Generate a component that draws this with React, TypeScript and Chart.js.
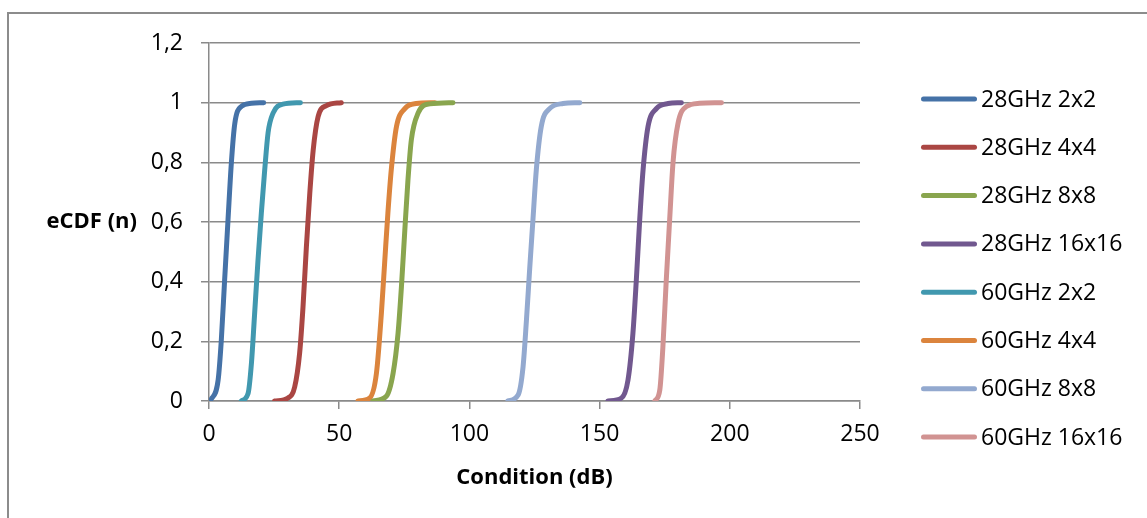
import React, { useEffect, useRef } from "react";
import { Chart, registerables } from "chart.js";

Chart.register(...registerables);

const seriesLabels = [
  "28GHz 2x2",
  "28GHz 4x4",
  "28GHz 8x8",
  "28GHz 16x16",
  "60GHz 2x2",
  "60GHz 4x4",
  "60GHz 8x8",
  "60GHz 16x16",
];

const seriesColors = [
  "#4572A7",
  "#AA4643",
  "#89A54E",
  "#71588F",
  "#4198AF",
  "#DB843D",
  "#93A9CF",
  "#D19392",
];

const ghz28_2x2_x = [0.5, 3.5, 4.7, 6.0, 7.3, 8.6, 9.9, 12.4, 16.3, 21];
const ghz28_2x2_y = [0, 0.07, 0.2, 0.405, 0.607, 0.8, 0.93, 0.987, 0.998, 1.0];

const ghz28_4x4_x = [25.2, 30.3, 32.9, 34.8, 36.1, 37.4, 38.7, 40.0, 41.9, 45.1, 50.8];
const ghz28_4x4_y = [0, 0.01, 0.047, 0.16, 0.315, 0.517, 0.696, 0.84, 0.953, 0.99, 1.0];

const ghz28_8x8_x = [63.0, 68.1, 70.7, 72.6, 73.9, 75.2, 76.4, 77.7, 80.3, 84.8, 93.7];
const ghz28_8x8_y = [0, 0.016, 0.093, 0.227, 0.383, 0.573, 0.74, 0.875, 0.965, 0.996, 1.0];

const ghz28_16x16_x = [153.2, 158.4, 160.9, 162.8, 164.1, 165.4, 166.7, 168.6, 171.8, 176.3, 181.4];
const ghz28_16x16_y = [0, 0.01, 0.07, 0.227, 0.405, 0.607, 0.775, 0.92, 0.98, 0.997, 1.0];

const ghz60_2x2_x = [12.4, 15.0, 16.3, 17.5, 18.8, 20.1, 21.4, 22.7, 24.6, 28.4, 35.1];
const ghz60_2x2_y = [0, 0.025, 0.127, 0.29, 0.47, 0.63, 0.775, 0.9, 0.965, 0.995, 1.0];

const ghz60_4x4_x = [57.2, 61.7, 64.3, 66.2, 67.5, 68.7, 70.0, 72.0, 75.2, 79.6, 86.7];
const ghz60_4x4_y = [0, 0.01, 0.093, 0.294, 0.47, 0.63, 0.775, 0.92, 0.98, 0.997, 1.0];

const ghz60_8x8_x = [114.8, 118.7, 120.6, 121.9, 123.2, 124.4, 125.7, 127.6, 130.8, 136.0, 142.4];
const ghz60_8x8_y = [0, 0.02, 0.114, 0.27, 0.45, 0.607, 0.775, 0.92, 0.98, 0.997, 1.0];

const ghz60_16x16_x = [171.2, 173.1, 174.3, 175.6, 176.9, 178.2, 180.1, 183.3, 188.4, 196.8];
const ghz60_16x16_y = [0, 0.036, 0.18, 0.405, 0.607, 0.8, 0.93, 0.987, 0.998, 1.0];

const seriesX = [ghz28_2x2_x, ghz28_4x4_x, ghz28_8x8_x, ghz28_16x16_x, ghz60_2x2_x, ghz60_4x4_x, ghz60_8x8_x, ghz60_16x16_x];
const seriesY = [ghz28_2x2_y, ghz28_4x4_y, ghz28_8x8_y, ghz28_16x16_y, ghz60_2x2_y, ghz60_4x4_y, ghz60_8x8_y, ghz60_16x16_y];

const yTickLabels = ["0", "0,2", "0,4", "0,6", "0,8", "1", "1,2"];
const xTitle = "Condition (dB)";
const yTitle = "eCDF (n)";

const FONT = '"Open Sans", "DejaVu Sans", sans-serif';
const GRID = "#8a8a8a";

const overlayPlugin = {
  id: "overlay",
  afterDraw(chart: any) {
    const ctx = chart.ctx;
    const { top, bottom, right } = chart.chartArea;
    ctx.save();
    ctx.fillStyle = "#000";
    ctx.font = `bold 22px ${FONT}`;
    ctx.textAlign = "right";
    ctx.textBaseline = "middle";
    ctx.fillText(yTitle, 137, (top + bottom) / 2);

    const startY = 99;
    const step = 48.3;
    chart.data.datasets.forEach((ds: any, i: number) => {
      const y = startY + i * step;
      ctx.strokeStyle = ds.borderColor;
      ctx.lineWidth = 5;
      ctx.lineCap = "round";
      ctx.beginPath();
      ctx.moveTo(right + 63.5, y);
      ctx.lineTo(right + 114.5, y);
      ctx.stroke();
      ctx.font = `23px ${FONT}`;
      ctx.textAlign = "left";
      ctx.textBaseline = "middle";
      ctx.fillStyle = "#000";
      ctx.fillText(ds.label, right + 121, y + 1);
    });
    ctx.restore();
  },
};

export default function App() {
  const canvasRef = useRef<HTMLCanvasElement | null>(null);

  useEffect(() => {
    if (!canvasRef.current) return;
    const datasets = seriesLabels.map((label, i) => ({
      label,
      data: seriesX[i].map((x, j) => ({ x, y: seriesY[i][j] })),
      borderColor: seriesColors[i],
      backgroundColor: seriesColors[i],
      borderWidth: 5,
      borderCapStyle: "round" as const,
      borderJoinStyle: "round" as const,
      pointRadius: 0,
      pointHoverRadius: 0,
      cubicInterpolationMode: "monotone" as const,
      fill: false,
    }));

    const chart = new Chart(canvasRef.current, {
      type: "line",
      data: { datasets },
      options: {
        animation: false,
        responsive: false,
        maintainAspectRatio: false,
        layout: { padding: { left: 0, top: 43, right: 287, bottom: 0 } },
        plugins: {
          legend: { display: false },
          tooltip: { enabled: false },
        },
        scales: {
          x: {
            type: "linear",
            min: 0,
            max: 250,
            ticks: {
              stepSize: 50,
              color: "#000",
              font: { family: FONT, size: 23 },
              padding: 12,
              maxRotation: 0,
            },
            grid: {
              drawOnChartArea: false,
              drawTicks: true,
              tickLength: 8,
              color: GRID,
              lineWidth: 1.5,
            },
            border: { display: true, color: GRID, width: 1.5 },
            title: {
              display: true,
              text: xTitle,
              color: "#000",
              font: { family: FONT, size: 22, weight: "bold" },
              padding: { top: 4, bottom: 27 },
            },
            afterFit: (scale: any) => {
              scale.height = 117;
            },
          },
          y: {
            type: "linear",
            min: 0,
            max: 1.2,
            ticks: {
              stepSize: 0.2,
              color: "#000",
              font: { family: FONT, size: 23 },
              padding: 18,
              callback: (_v: any, i: number) => yTickLabels[i],
            },
            grid: {
              drawOnChartArea: true,
              drawTicks: true,
              tickLength: 8,
              color: GRID,
              lineWidth: 1.5,
            },
            border: { display: true, color: GRID, width: 1.5 },
            afterFit: (scale: any) => {
              scale.width = 209;
            },
          },
        },
      },
      plugins: [overlayPlugin],
    });
    return () => chart.destroy();
  }, []);

  return (
    <div style={{ position: "fixed", left: 0, top: 0, width: 1147, height: 518, overflow: "hidden", background: "#fff" }}>
      <div
        style={{
          position: "absolute",
          left: 7,
          top: 12,
          width: 1160,
          height: 530,
          border: "2px solid #8c8c8c",
          boxSizing: "border-box",
        }}
      />
      <canvas
        ref={canvasRef}
        width={1147}
        height={518}
        style={{ position: "absolute", left: 0, top: 0, width: 1147, height: 518 }}
      />
    </div>
  );
}
